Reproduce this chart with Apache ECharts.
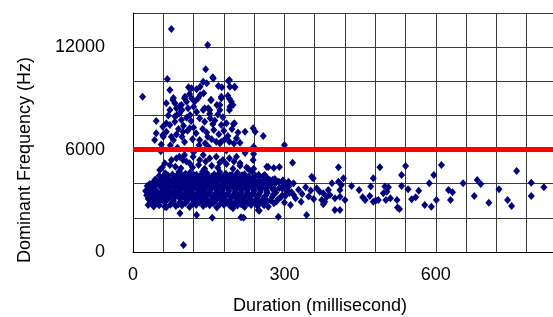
<!DOCTYPE html>
<html>
<head>
<meta charset="utf-8">
<script src="https://cdn.jsdelivr.net/npm/echarts@6/dist/echarts.min.js"></script>
<style>
  html, body { margin: 0; padding: 0; background: #fff; }
  #chart { width: 553px; height: 317px; }
</style>
</head>
<body>
<div id="chart"></div>
<script>
// tick labels shown on the axes
const xTickLabels = [0, 300, 600];
const yTickLabels = [0, 6000, 12000];
const thresholdFreq = 6000;

// [duration ms, frequency Hz]
const plumeTop = [
  [76, 13060], [148, 12130], [144, 10700], [68, 10130], [19, 9100], [73, 9490], [80, 9020],
  [158, 10230], [191, 10080], [201, 9680], [110, 9650], [116, 9590], [126, 9530], [133, 9680],
  [139, 9980], [146, 9880], [159, 10170], [169, 9720], [176, 9650], [189, 10020], [192, 9680],
  [202, 9650], [103, 9100], [116, 9000], [133, 9200], [154, 8900], [166, 8610], [191, 8980],
  [192, 8510], [140, 9300], [175, 9100], [188, 9150], [112, 9250]
];

const plumeMid = [
  [66, 8710], [79, 8900], [73, 8320], [86, 8420], [96, 8610], [102, 9000], [106, 8800],
  [92, 8120], [83, 7930], [109, 8420], [122, 8800], [129, 9000], [155, 8900], [142, 8420],
  [152, 8320], [175, 9000], [172, 8610], [195, 8800], [191, 8320], [198, 8610], [201, 7540],
  [83, 8710], [93, 8550], [97, 8320], [87, 8030], [113, 8030], [120, 8510], [139, 8320],
  [149, 8420], [153, 7830], [172, 8320],
  [46, 7670], [59, 7340], [66, 7540], [73, 7440], [83, 7630], [96, 7730], [106, 7870],
  [115, 7670], [132, 7830], [142, 7630], [158, 7480], [175, 7440], [185, 7540], [199, 7500],
  [46, 6950], [43, 6560], [59, 6850], [66, 7050], [76, 6750], [86, 6890], [99, 7050],
  [112, 7250], [125, 6950], [132, 6560], [148, 6750], [165, 6460], [175, 6460], [191, 6460],
  [205, 6660], [222, 7050], [238, 7250], [242, 7050], [258, 6800], [212, 6400], [239, 6170],
  [70, 8000], [100, 7400], [108, 7100], [120, 7300], [138, 7200], [146, 7000], [160, 7150],
  [170, 6900], [180, 7100], [188, 6800], [152, 8100], [162, 7700], [178, 7900], [90, 7200],
  [118, 6600], [126, 8200], [168, 8050], [196, 7200], [208, 7000], [56, 6300], [74, 6250],
  [102, 6450], [156, 6600], [182, 6600], [200, 6350], [60, 6750], [80, 6560], [97, 6750],
  [143, 6370], [172, 6370]
];

const nearLine = [
  [55, 5900], [88, 6100], [120, 5850], [150, 6150], [185, 5950], [222, 5800], [131, 6250],
  [300, 6270], [239, 5740],
  [53, 4800], [63, 5200], [73, 5100], [76, 5390], [86, 5490], [92, 5580], [99, 5390],
  [102, 5680], [112, 5200], [119, 5580], [132, 5390], [139, 5680], [152, 5490], [165, 5580],
  [178, 5390], [191, 5490], [205, 5580], [212, 5200], [238, 5390], [265, 5000],
  [95, 4900], [118, 4950], [142, 4880], [168, 4930], [198, 4870], [225, 4950], [84, 5000],
  [130, 5100], [156, 5050], [185, 5150], [212, 5050], [106, 5300], [144, 5300], [172, 5250],
  [200, 5300], [58, 4950], [268, 4980], [279, 4920], [290, 4980], [228, 4880], [239, 4880],
  [234, 4750], [261, 4510], [271, 4220], [278, 4120]
];

const coreUpper = [
  [64, 4620], [78, 4540], [91, 4700], [104, 4580], [113, 4660], [126, 4520], [138, 4720],
  [147, 4600], [161, 4550], [172, 4680], [184, 4590], [196, 4510], [207, 4640], [221, 4560],
  [236, 4700], [249, 4530],
  [52, 4460], [69, 4500], [86, 4450], [98, 4490], [110, 4440], [122, 4480], [133, 4460],
  [145, 4500], [157, 4440], [168, 4480], [180, 4450], [192, 4500], [203, 4460], [216, 4490],
  [229, 4440], [243, 4470], [258, 4450],
  [58, 4380], [70, 4320], [81, 4410], [94, 4340], [102, 4290], [117, 4400], [128, 4330],
  [139, 4380], [151, 4310], [163, 4420], [176, 4350], [188, 4290], [199, 4400], [212, 4340],
  [224, 4380], [237, 4300], [251, 4410], [266, 4330], [281, 4280],
  [44, 4240], [55, 4210], [66, 4260], [79, 4220], [90, 4250], [103, 4200], [114, 4240],
  [126, 4270], [137, 4210], [150, 4250], [162, 4230], [175, 4270], [187, 4210], [200, 4240],
  [211, 4260], [225, 4220], [238, 4250], [250, 4210], [263, 4260], [277, 4230], [297, 4200],
  [40, 4080], [47, 4150], [61, 4040], [73, 4120], [85, 4170], [97, 4060], [108, 4110],
  [121, 4180], [133, 4050], [144, 4130], [157, 4090], [169, 4160], [181, 4040], [194, 4120],
  [205, 4080], [218, 4150], [231, 4060], [243, 4130], [257, 4100], [270, 4040], [289, 4110]
];

const coreMiddle = [
  [33, 3990], [46, 3960], [58, 4000], [70, 3970], [82, 3940], [94, 4010], [105, 3980],
  [117, 3950], [130, 4000], [141, 3970], [153, 3940], [165, 4010], [177, 3960], [190, 3990],
  [202, 3950], [215, 4000], [227, 3970], [240, 3940], [252, 4000], [265, 3960], [281, 3990],
  [303, 3950],
  [28, 3860], [40, 3800], [52, 3900], [64, 3830], [76, 3880], [88, 3810], [99, 3920],
  [111, 3840], [124, 3870], [136, 3790], [148, 3900], [160, 3850], [172, 3820], [185, 3890],
  [197, 3830], [209, 3870], [222, 3800], [234, 3910], [247, 3840], [259, 3860], [274, 3800],
  [297, 3880],
  [31, 3730], [42, 3700], [57, 3750], [69, 3710], [81, 3740], [93, 3690], [104, 3760],
  [116, 3720], [128, 3700], [141, 3750], [152, 3720], [165, 3690], [177, 3750], [189, 3710],
  [201, 3740], [213, 3700], [226, 3760], [238, 3720], [251, 3690], [263, 3740], [276, 3710],
  [290, 3750],
  [25, 3580], [36, 3640], [47, 3560], [59, 3620], [71, 3600], [83, 3550], [95, 3660],
  [106, 3590], [118, 3630], [130, 3570], [142, 3610], [154, 3650], [166, 3560], [178, 3620],
  [190, 3590], [203, 3640], [215, 3570], [227, 3620], [240, 3590], [253, 3650], [265, 3560],
  [281, 3610], [305, 3580],
  [30, 3480], [43, 3450], [55, 3500], [67, 3460], [79, 3490], [91, 3440], [103, 3470],
  [116, 3510], [128, 3450], [140, 3480], [152, 3500], [164, 3440], [177, 3490], [189, 3460],
  [202, 3510], [214, 3450], [227, 3480], [239, 3440], [252, 3500], [266, 3460], [283, 3480],
  [310, 3450],
  [27, 3330], [39, 3380], [51, 3310], [63, 3370], [75, 3340], [87, 3400], [100, 3320],
  [112, 3360], [124, 3300], [137, 3390], [149, 3350], [161, 3310], [173, 3380], [186, 3340],
  [198, 3300], [211, 3370], [224, 3330], [236, 3390], [249, 3340], [263, 3310], [278, 3370],
  [296, 3330], [318, 3360]
];

const coreLower = [
  [33, 3240], [46, 3210], [59, 3260], [72, 3220], [84, 3250], [96, 3200], [109, 3230],
  [121, 3270], [134, 3210], [146, 3250], [158, 3230], [171, 3200], [183, 3260], [196, 3220],
  [208, 3250], [221, 3210], [233, 3260], [247, 3230], [260, 3200], [276, 3240], [293, 3210],
  [30, 3120], [43, 3060], [56, 3140], [68, 3090], [80, 3050], [93, 3130], [105, 3080],
  [117, 3150], [130, 3070], [143, 3110], [155, 3040], [167, 3130], [180, 3090], [192, 3060],
  [205, 3140], [217, 3100], [230, 3050], [244, 3120], [257, 3080], [272, 3030], [288, 3100],
  [37, 2990], [52, 2960], [66, 3010], [80, 2970], [94, 2940], [108, 3000], [122, 2960],
  [136, 2990], [150, 2950], [164, 3010], [178, 2970], [192, 2940], [207, 3000], [221, 2960],
  [235, 2990], [250, 2950], [266, 2980], [284, 2960],
  [34, 2880], [48, 2820], [62, 2900], [76, 2840], [90, 2800], [104, 2870], [118, 2830],
  [131, 2900], [145, 2810], [159, 2860], [172, 2790], [186, 2880], [200, 2840], [214, 2800],
  [228, 2870], [243, 2830], [258, 2790], [279, 2850],
  [52, 2740], [74, 2770], [97, 2730], [125, 2760], [152, 2740], [180, 2770], [207, 2730],
  [234, 2760], [260, 2740],
  [41, 2660], [66, 2620], [85, 2700], [112, 2640], [139, 2690], [166, 2610], [193, 2680],
  [221, 2630], [247, 2700], [268, 2650]
];

const lowPoints = [
  [100, 410], [93, 2270], [126, 2170], [157, 2010], [219, 2010], [250, 2420], [248, 2460],
  [288, 2070], [30, 2750], [63, 2650], [198, 2560], [214, 2030], [344, 2170]
];

const tailPoints = [
  [296, 3700], [302, 3300], [309, 3850], [314, 3500], [322, 3150], [328, 3650], [335, 3400],
  [342, 3800], [348, 3250], [352, 3600], [358, 3100], [333, 2950], [300, 2900], [312, 2750],
  [308, 4120], [318, 4020], [316, 5230], [354, 4410], [357, 4320], [364, 3730], [370, 3530],
  [377, 3440], [387, 3630], [394, 4020], [390, 3340], [400, 3150], [407, 4120], [410, 3240],
  [413, 3920], [420, 3050], [374, 3050], [380, 2950], [384, 3240], [377, 2800], [400, 2460],
  [407, 4960], [417, 4320], [410, 3630], [410, 2460],
  [433, 3870], [448, 3630], [455, 3200], [460, 3050], [469, 3280], [471, 3830], [476, 4320],
  [476, 2950], [481, 3010], [486, 3050], [489, 4960], [496, 3440], [503, 3530], [506, 3790],
  [499, 3830], [501, 3050], [510, 3150], [523, 3050], [524, 2600], [528, 2520], [532, 4510],
  [532, 3870], [540, 5040], [545, 3670], [552, 3090], [560, 3200], [566, 3590], [578, 2750],
  [587, 4020], [591, 2650], [596, 4510], [601, 3050], [611, 5100],
  [625, 3630], [633, 3500], [629, 3050], [654, 4020], [676, 3280], [682, 4220], [689, 3980],
  [705, 2890], [725, 3670], [742, 3050], [750, 2700], [760, 4750], [789, 4060], [789, 3280],
  [814, 3790]
];

const allPoints = [].concat(plumeTop, plumeMid, nearLine, coreUpper, coreMiddle, coreLower, lowPoints, tailPoints);

const chart = echarts.init(document.getElementById('chart'));

const font = 'Liberation Sans';
const gridLine = { show: true, lineStyle: { color: '#3a3a3a', width: 1 } };

const option = {
  animation: false,
  backgroundColor: '#fff',
  grid: {
    left: 133,
    top: 13,
    width: 424,
    height: 239,
    outerBoundsMode: 'none'
  },
  xAxis: {
    type: 'value',
    min: 0,
    max: 840,
    interval: 300,
    axisLine: { show: true, lineStyle: { color: '#000', width: 1 } },
    axisTick: { show: false },
    minorTick: { show: false, splitNumber: 5 },
    axisLabel: {
      margin: 14,
      color: '#000',
      fontSize: 18,
      fontFamily: font,
      showMaxLabel: false,
      formatter: v => xTickLabels.includes(v) ? String(v) : ''
    },
    splitLine: gridLine,
    minorSplitLine: gridLine
  },
  yAxis: {
    type: 'value',
    min: 0,
    max: 14000,
    interval: 6000,
    axisLine: { show: true, lineStyle: { color: '#000', width: 1 } },
    axisTick: { show: false },
    minorTick: { show: false, splitNumber: 3 },
    axisLabel: {
      margin: 28,
      color: '#000',
      fontSize: 18,
      fontFamily: font,
      showMaxLabel: false,
      formatter: v => yTickLabels.includes(v) ? String(v) : ''
    },
    splitLine: gridLine,
    minorSplitLine: gridLine
  },
  graphic: [
    {
      type: 'text',
      x: 25,
      y: 160,
      rotation: Math.PI / 2,
      style: {
        text: 'Dominant Frequency (Hz)',
        fill: '#000',
        font: '18px "Liberation Sans"',
        align: 'center',
        verticalAlign: 'middle'
      }
    },
    {
      type: 'text',
      x: 320,
      y: 306,
      style: {
        text: 'Duration (millisecond)',
        fill: '#000',
        font: '18px "Liberation Sans"',
        align: 'center',
        verticalAlign: 'middle'
      }
    }
  ],
  series: [
    {
      type: 'scatter',
      data: allPoints,
      symbol: 'diamond',
      symbolSize: [7, 8],
      itemStyle: { color: '#000080', opacity: 1 },
      z: 2
    },
    {
      type: 'line',
      data: [[0, thresholdFreq], [840, thresholdFreq]],
      symbol: 'none',
      lineStyle: { color: '#ff0000', width: 5 },
      silent: true,
      z: 5
    }
  ]
};

chart.setOption(option);
</script>
</body>
</html>
